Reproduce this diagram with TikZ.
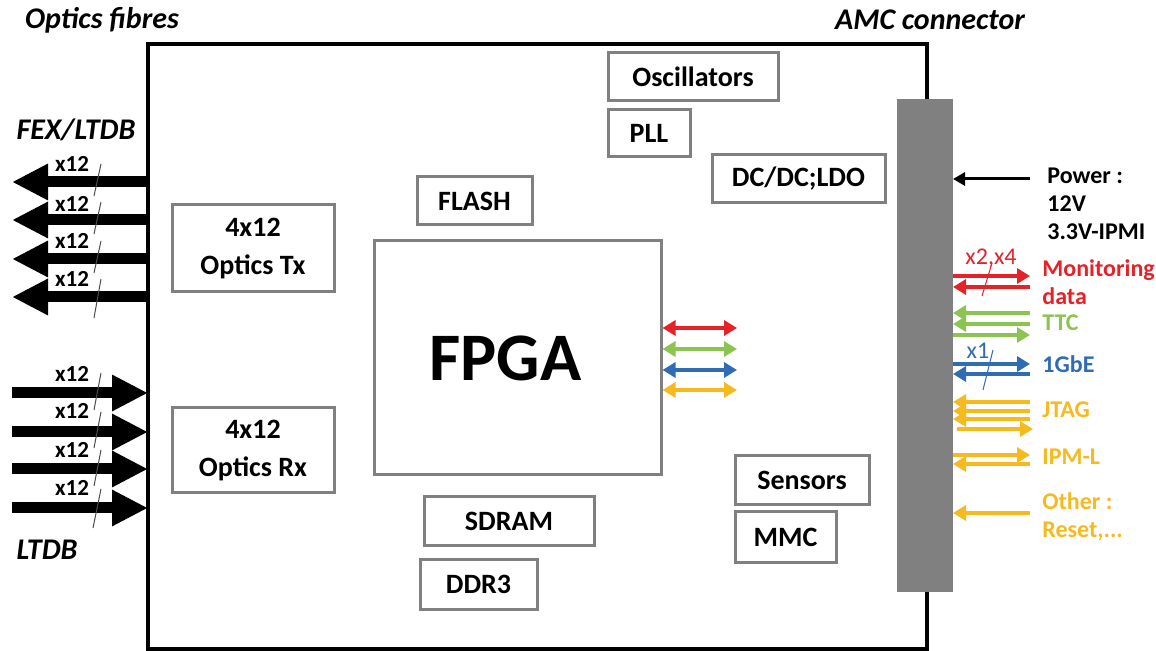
\documentclass[tikz,border=0pt]{standalone}
\usepackage{fontspec}
\setmainfont{Carlito}
\usetikzlibrary{arrows.meta}
\definecolor{mred}{RGB}{228,34,40}
\definecolor{mgreen}{RGB}{140,196,82}
\definecolor{mblue}{RGB}{48,108,178}
\definecolor{myellow}{RGB}{246,186,30}
\definecolor{boxgrey}{RGB}{128,128,128}

\begin{document}
\begin{tikzpicture}[x=0.5pt,y=-0.5pt,
  part/.style={draw=boxgrey, line width=1.5pt, align=center, inner sep=0pt,
    font=\bfseries\fontsize{14}{19}\selectfont},
  title/.style={font=\bfseries\itshape\fontsize{15}{18}\selectfont},
  mult/.style={font=\bfseries\fontsize{11.5}{13}\selectfont},
  sigtext/.style={anchor=west, align=left, inner sep=0pt,
    font=\bfseries\fontsize{12}{14}\selectfont},
  fibre/.style={line width=5.5pt, -{Triangle[length=18pt,width=17pt]}},
  sig/.style={line width=2pt, -{Triangle[length=6.5pt,width=7.5pt]}},
  both/.style={line width=2pt, {Triangle[length=6.5pt,width=7.5pt]}-{Triangle[length=6.5pt,width=7.5pt]}},
  slash/.style={line width=0.5pt, black!70}]

 \useasboundingbox (0,0) rectangle (1156,651);

 % board and AMC connector
 \node[draw, line width=2pt, outer sep=0pt, minimum width=389.5pt, minimum height=302.5pt]
   (board) at (537.5,346.5) {};
 \node[fill=boxgrey, outer sep=0pt, minimum width=28pt, minimum height=246.5pt]
   (amc) at (925,345.5) {};

 \node[title] (fibres) at (102,20) {Optics fibres};
 \node[title] (amctitle) at (930,20) {AMC connector};
 \node[title] (fex) at (76,130) {FEX/LTDB};
 \node[title] (ltdb) at (47,550) {LTDB};

 % parts on the board
 \node[part, minimum width=85pt, minimum height=24pt] (osc) at (693,77) {Oscillators};
 \node[part, minimum width=41pt, minimum height=23.5pt] (pll) at (649,133.5) {PLL};
 \node[part, minimum width=86.5pt, minimum height=24pt] (dcdc) at (798.5,179) {DC/DC;LDO};
 \node[part, minimum width=57.5pt, minimum height=24pt] (flash) at (474.5,201) {FLASH};
 \node[part, minimum width=81pt, minimum height=43.5pt] (tx) at (253,248.5) {4x12\\Optics Tx};
 \node[part, minimum width=81pt, minimum height=42.5pt] (rx) at (253,450.5) {4x12\\Optics Rx};
 \node[part, minimum width=143.5pt, minimum height=117pt, font=\bfseries\fontsize{34}{40}\selectfont]
   (fpga) at (517.5,358) {FPGA\kern12pt};
 \node[part, minimum width=85pt, minimum height=24.5pt] (sdram) at (509,521.5) {SDRAM};
 \node[part, minimum width=58.5pt, minimum height=24.5pt] (ddr) at (478.5,584.5) {DDR3};
 \node[part, minimum width=67pt, minimum height=24.5pt] (sensors) at (802,480.5) {Sensors};
 \node[part, minimum width=50.5pt, minimum height=25.5pt] (mmc) at (785.5,537.5) {MMC};

 % links out of the FPGA
 \coordinate (f1) at (737,328);
 \coordinate (f2) at (737,349);
 \coordinate (f3) at (737,370);
 \coordinate (f4) at (737,390);
 \draw[both, mred] (fpga.east |- f1) -- (f1);
 \draw[both, mgreen] (fpga.east |- f2) -- (f2);
 \draw[both, mblue] (fpga.east |- f3) -- (f3);
 \draw[both, myellow] (fpga.east |- f4) -- (f4);

 % fibres to FEX/LTDB
 \coordinate (o1) at (12,182);
 \coordinate (o2) at (12,220);
 \coordinate (o3) at (12,259);
 \coordinate (o4) at (12,297);
 \draw[fibre] (board.west |- o1) -- (o1);
 \draw[fibre] (board.west |- o2) -- (o2);
 \draw[fibre] (board.west |- o3) -- (o3);
 \draw[fibre] (board.west |- o4) -- (o4);
 \node[mult] (no1) at (72,164) {x12};
 \node[mult] (no2) at (72,204) {x12};
 \node[mult] (no3) at (72,241) {x12};
 \node[mult] (no4) at (72,279) {x12};
 \draw[slash] (101,164) -- (94,196);
 \draw[slash] (101,202) -- (94,234);
 \draw[slash] (101,241) -- (94,273);
 \draw[slash] (101,279) -- (94,318);

 % fibres from LTDB
 \coordinate (i1) at (12,393);
 \coordinate (i2) at (12,432);
 \coordinate (i3) at (12,469);
 \coordinate (i4) at (12,508);
 \draw[fibre] (i1) -- (board.west |- i1);
 \draw[fibre] (i2) -- (board.west |- i2);
 \draw[fibre] (i3) -- (board.west |- i3);
 \draw[fibre] (i4) -- (board.west |- i4);
 \node[mult] (ni1) at (72,374) {x12};
 \node[mult] (ni2) at (72,411) {x12};
 \node[mult] (ni3) at (72,450) {x12};
 \node[mult] (ni4) at (72,488) {x12};
 \draw[slash] (101,373) -- (94,410);
 \draw[slash] (101,412) -- (94,448);
 \draw[slash] (101,450) -- (94,486);
 \draw[slash] (101,489) -- (93,528);

 % AMC signals
 \coordinate (p1) at (1030,179);
 \draw[line width=1.5pt, -{Triangle[length=6pt,width=6.5pt]}] (p1) -- (amc.east |- p1);
 \node[sigtext] (power) at (1047,204) {Power :\\12V\\3.3V-IPMI};

 \coordinate (m1) at (1030,276);
 \coordinate (m2) at (1030,287);
 \draw[sig, mred] (amc.east |- m1) -- (m1);
 \draw[sig, mred] (m2) -- (amc.east |- m2);
 \node[mred, font=\fontsize{12}{14}\selectfont] (nm) at (991,258) {x2,x4};
 \draw[slash, mred] (992,263) -- (982,296);
 \node[sigtext, mred] (mon) at (1042,282) {Monitoring\\data};

 \coordinate (t1) at (1030,313);
 \coordinate (t2) at (1030,324);
 \coordinate (t3) at (1030,335);
 \draw[sig, mgreen] (t1) -- (amc.east |- t1);
 \draw[sig, mgreen] (t2) -- (amc.east |- t2);
 \draw[sig, mgreen] (amc.east |- t3) -- (t3);
 \node[sigtext, mgreen] (ttc) at (1042,323) {TTC};

 \coordinate (g1) at (1030,364);
 \coordinate (g2) at (1030,374);
 \draw[sig, mblue] (amc.east |- g1) -- (g1);
 \draw[sig, mblue] (g2) -- (amc.east |- g2);
 \node[mblue, font=\fontsize{12}{14}\selectfont] (ng) at (978,351) {x1};
 \draw[slash, mblue] (993,350) -- (983,390);
 \node[sigtext, mblue] (gbe) at (1042,364) {1GbE};

 \coordinate (j1) at (1030,402);
 \coordinate (j2) at (1030,411);
 \coordinate (j3) at (1030,419);
 \coordinate (j4) at (1033,429);
 \draw[sig, myellow] (j1) -- (amc.east |- j1);
 \draw[sig, myellow] (j2) -- (amc.east |- j2);
 \draw[sig, myellow] (j3) -- (amc.east |- j3);
 \draw[sig, myellow] ([xshift=2pt]amc.east |- j4) -- (j4);
 \node[sigtext, myellow] (jtag) at (1042,410) {JTAG};

 \coordinate (l1) at (1030,455);
 \coordinate (l2) at (1030,464);
 \draw[sig, myellow] (amc.east |- l1) -- (l1);
 \draw[sig, myellow] (l2) -- (amc.east |- l2);
 \node[sigtext, myellow] (ipml) at (1042,457) {IPM-L};

 \coordinate (r1) at (1030,513);
 \draw[sig, myellow] (r1) -- (amc.east |- r1);
 \node[sigtext, myellow] (other) at (1042,517) {Other :\\Reset,...};
\end{tikzpicture}
\end{document}
